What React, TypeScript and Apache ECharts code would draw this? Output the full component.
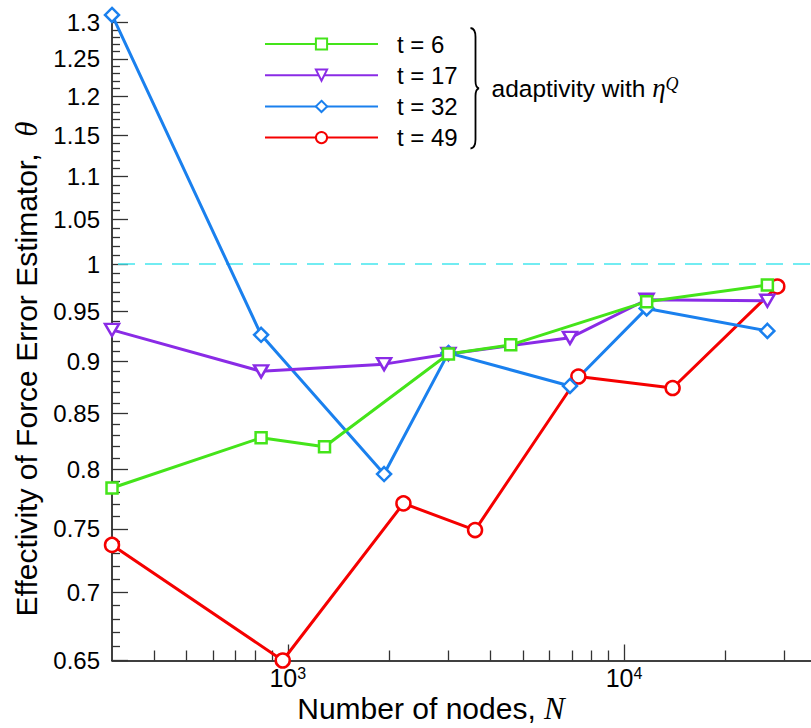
import React, { useEffect, useRef } from "react";
import * as echarts from "echarts";

// ---- data ----
const seriesNames = ["t = 6", "t = 17", "t = 32", "t = 49"];

const nodesT6 = [300, 833, 1286, 3005, 4604, 11681, 26700];
const thetaT6 = [0.784, 0.828, 0.82, 0.907, 0.916, 0.96, 0.9775];

const nodesT17 = [300, 833, 1934, 3005, 6908, 11681, 26700];
const thetaT17 = [0.931, 0.89, 0.897, 0.907, 0.923, 0.962, 0.961];

const nodesT32 = [300, 833, 1934, 3005, 6908, 11681, 26700];
const thetaT32 = [1.311, 0.926, 0.796, 0.908, 0.876, 0.953, 0.93];

const nodesT49 = [300, 966, 2208, 3606, 7317, 13955, 28580];
const thetaT49 = [0.737, 0.65, 0.771, 0.749, 0.885, 0.874, 0.976];

const referenceTheta = [1];

const xRange = [300, 36000];
const yRange = [0.65, 1.3];
const xMajorTicks = [1000, 10000];
const xMinorTicks = [
  400, 500, 600, 700, 800, 900, 2000, 3000, 4000, 5000, 6000, 7000, 8000,
  9000, 20000, 30000,
];
const yMajorTicks = [
  0.65, 0.7, 0.75, 0.8, 0.85, 0.9, 0.95, 1, 1.05, 1.1, 1.15, 1.2, 1.25, 1.3,
];

const FONT = "'Liberation Sans', Arial, Helvetica, sans-serif";
const SERIF = "'Liberation Serif', 'DejaVu Serif', serif";

const COLORS = {
  t6: "#44e41a",
  t17: "#8a2be6",
  t32: "#1a80ee",
  t49: "#f50000",
  ref: "#44e6ee",
};

const lg = (v: number) => Math.log10(v);

function yMinorList(): number[] {
  const out: number[] = [];
  for (let k = 66; k < 130; k++) {
    if (k % 5 !== 0) out.push(k / 100);
  }
  return out;
}

const pairs = (ns: number[], ts: number[]) =>
  ns.map((n, i) => [lg(n), lg(ts[i])]);

const TRI_DOWN = "path://M0,0 L20,0 L10,17 Z";

export default function App() {
  const ref = useRef<HTMLDivElement>(null);

  useEffect(() => {
    document.body.style.margin = "0";
    if (!ref.current) return;

    try {
      echarts.graphic.registerShape(
        "brace",
        echarts.graphic.extendPath(
          "M470.5,28 Q475.5,28.5 475.5,37 L475.5,81 Q475.5,87.5 479,88.3 Q475.5,89 475.5,96 L475.5,139.5 Q475.5,148 470.5,148.5",
          {}
        )
      );
    } catch (e) {}

    const chart = echarts.init(ref.current, null, { renderer: "svg" });

    const xMin = lg(xRange[0]);
    const xMax = lg(xRange[1]);
    const yMin = lg(yRange[0]);
    const yMax = lg(yRange[1]);

    const tickStyle = { color: "#333", width: 1.3 };

    const mkSeries = (
      name: string,
      ns: number[],
      ts: number[],
      color: string,
      symbol: string,
      size: number | number[]
    ) => ({
      name,
      type: "line",
      data: pairs(ns, ts),
      symbol,
      symbolSize: size,
      showSymbol: true,
      clip: false,
      lineStyle: { color, width: 3 },
      itemStyle: { color: "#fff", borderColor: color, borderWidth: 2.5 },
      emphasis: { disabled: true },
    });

    const option: any = {
      animation: false,
      backgroundColor: "#ffffff",
      grid: { left: 112, top: 22.7, right: 0, bottom: 67.5, outerBoundsMode: "none" },
      xAxis: [
        {
          type: "value",
          min: xMin,
          max: xMax,
          position: "bottom",
          axisLine: { show: true, onZero: false, lineStyle: { color: "#000", width: 1.5 } },
          axisTick: {
            show: true,
            inside: true,
            length: 16,
            customValues: xMajorTicks.map(lg),
            lineStyle: tickStyle,
          },
          axisLabel: {
            show: true,
            customValues: xMajorTicks.map(lg),
            formatter: (v: number) => `10{sup|${Math.round(v)}}`,
            margin: 5,
            color: "#000",
            fontSize: 25,
            fontFamily: FONT,
            rich: {
              sup: { fontSize: 16, fontFamily: FONT, color: "#000", verticalAlign: "top" },
            },
          },
          splitLine: { show: false },
        },
        {
          type: "value",
          min: xMin,
          max: xMax,
          position: "bottom",
          axisLine: { show: false, onZero: false },
          axisTick: {
            show: true,
            inside: true,
            length: 10,
            customValues: xMinorTicks.map(lg),
            lineStyle: tickStyle,
          },
          axisLabel: { show: false },
          splitLine: { show: false },
        },
      ],
      yAxis: [
        {
          type: "value",
          min: yMin,
          max: yMax,
          position: "left",
          axisLine: { show: true, onZero: false, lineStyle: { color: "#000", width: 1.5 } },
          axisTick: {
            show: true,
            inside: true,
            length: 16,
            customValues: yMajorTicks.map(lg),
            lineStyle: tickStyle,
          },
          axisLabel: {
            show: true,
            customValues: yMajorTicks.map(lg),
            formatter: (v: number) => String(parseFloat(Math.pow(10, v).toFixed(2))),
            margin: 12,
            color: "#000",
            fontSize: 24,
            fontFamily: FONT,
          },
          splitLine: { show: false },
        },
        {
          type: "value",
          min: yMin,
          max: yMax,
          position: "left",
          axisLine: { show: false, onZero: false },
          axisTick: {
            show: true,
            inside: true,
            length: 8,
            customValues: yMinorList().map(lg),
            lineStyle: tickStyle,
          },
          axisLabel: { show: false },
          splitLine: { show: false },
        },
      ],
      legend: {
        orient: "vertical",
        left: 264,
        top: 32,
        padding: 0,
        itemWidth: 113,
        itemHeight: 14,
        itemGap: 7.2,
        selectedMode: false,
        data: seriesNames,
        formatter: (name: string) => `{a|${name}}`,
        textStyle: {
          fontSize: 24,
          fontFamily: FONT,
          color: "#000",
          rich: {
            a: { fontSize: 24, fontFamily: FONT, color: "#000", padding: [0, 0, 0, 14] },
          },
        },
      },
      series: [
        {
          name: "ref",
          type: "line",
          data: [
            [xMin, lg(referenceTheta[0])],
            [xMax, lg(referenceTheta[0])],
          ],
          symbol: "none",
          lineStyle: { color: COLORS.ref, width: 1.5, type: [17, 10], dashOffset: 21 },
          z: 1,
          silent: true,
        },
        mkSeries(seriesNames[3], nodesT49, thetaT49, COLORS.t49, "circle", 14),
        mkSeries(seriesNames[2], nodesT32, thetaT32, COLORS.t32, "diamond", 14),
        mkSeries(seriesNames[1], nodesT17, thetaT17, COLORS.t17, TRI_DOWN, [14, 12]),
        mkSeries(seriesNames[0], nodesT6, thetaT6, COLORS.t6, "rect", 11),
      ],
      graphic: [
        {
          type: "brace",
          x: 0,
          y: 0,
          style: { stroke: "#000", fill: "none", lineWidth: 1.8 },
          silent: true,
        },
        {
          type: "text",
          x: 491.5,
          y: 88,
          style: {
            text: "adaptivity with {eta|η}{sup|Q}",
            fontSize: 24.5,
            fontFamily: FONT,
            fill: "#000",
            verticalAlign: "middle",
            rich: {
              eta: { fontSize: 27, fontFamily: SERIF, fontStyle: "italic", fill: "#000" },
              sup: {
                fontSize: 18,
                fontFamily: SERIF,
                fontStyle: "italic",
                fill: "#000",
                verticalAlign: "top",
              },
            },
          },
        },
        {
          type: "text",
          x: 431,
          y: 708,
          style: {
            text: "Number of nodes, {i|N}",
            fontSize: 30,
            fontFamily: FONT,
            fill: "#000",
            align: "center",
            verticalAlign: "middle",
            rich: {
              i: { fontSize: 31, fontFamily: SERIF, fontStyle: "italic", fill: "#000" },
            },
          },
        },
        {
          type: "text",
          x: 26,
          y: 369,
          rotation: Math.PI / 2,
          style: {
            text: "Effectivity of Force Error Estimator,  {i|θ}",
            fontSize: 30,
            fontFamily: FONT,
            fill: "#000",
            align: "center",
            verticalAlign: "middle",
            rich: {
              i: { fontSize: 31, fontFamily: SERIF, fontStyle: "italic", fill: "#000" },
            },
          },
        },
      ],
    };

    chart.setOption(option);
    return () => chart.dispose();
  }, []);

  return <div ref={ref} style={{ width: 811, height: 728 }} />;
}
